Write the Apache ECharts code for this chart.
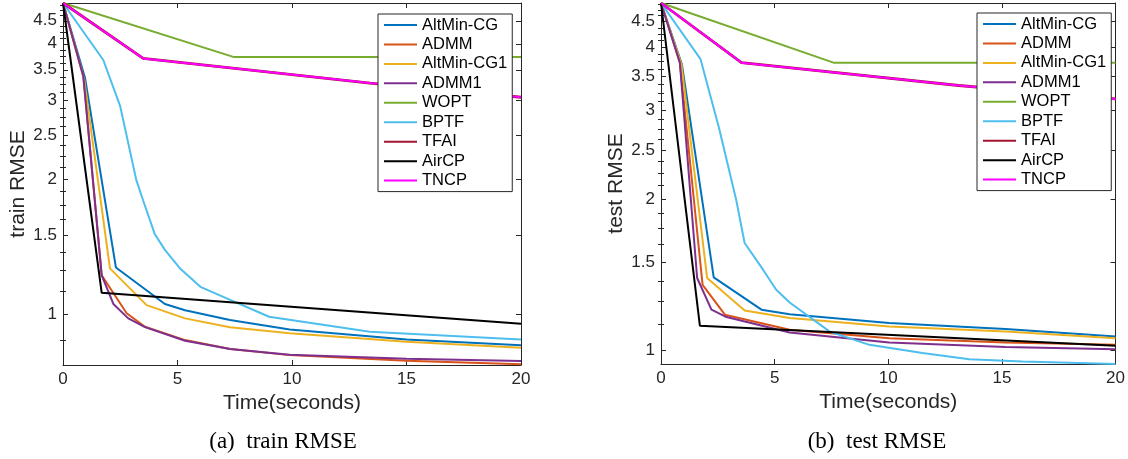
<!DOCTYPE html>
<html>
<head>
<meta charset="utf-8">
<script src="https://cdn.jsdelivr.net/npm/echarts@6.0.0/dist/echarts.min.js"></script>
<style>
html,body{margin:0;padding:0;background:#ffffff;}
#chart{width:1128px;height:459px;}
</style>
</head>
<body>
<div id="chart"></div>
<script>
// ---------- names, colours, ticks ----------
const seriesNames = ['AltMin-CG', 'ADMM', 'AltMin-CG1', 'ADMM1', 'WOPT', 'BPTF', 'TFAI', 'AirCP', 'TNCP'];
const seriesColors = ['#0072BD', '#D95319', '#EDB120', '#7E2F8E', '#77AC30', '#4DBEEE', '#A2142F', '#000000', '#FF00FF'];
const xTickValues = [0, 5, 10, 15, 20];
const yMajorTicks = [1, 1.5, 2, 2.5, 3, 3.5, 4, 4.5];
const yMinorTicks = [0.875, 1.125, 1.25, 1.375, 1.625, 1.75, 1.875, 2.125, 2.25, 2.375,
  2.625, 2.75, 2.875, 3.125, 3.25, 3.375, 3.625, 3.75, 3.875, 4.125, 4.25, 4.375, 4.625, 4.75, 4.875];
const xAxisName = 'Time(seconds)';
const trainYName = 'train RMSE';
const testYName = 'test RMSE';
const trainCaption = '(a)  train RMSE';
const testCaption = '(b)  test RMSE';
const trainYRange = [0.77, 4.93];
const testYRange = [0.94, 4.90];

// ---------- train RMSE: [time (s), RMSE] ----------
const trainAltMinCG = [[0, 4.93], [0.96, 3.36], [2.31, 1.27], [4.45, 1.053], [5.33, 1.02], [7.29, 0.97], [9.9, 0.924], [15, 0.878], [20, 0.852]];
const trainADMM = [[0, 4.93], [0.89, 3.38], [1.69, 1.22], [2.78, 1.004], [3.58, 0.937], [5.33, 0.875], [7.3, 0.836], [9.9, 0.81], [15, 0.787], [20, 0.773]];
const trainAltMinCG1 = [[0, 4.93], [0.93, 3.32], [2.05, 1.264], [3.65, 1.047], [5.33, 0.978], [7.29, 0.934], [9.9, 0.906], [15, 0.868], [20, 0.841]];
const trainADMM1 = [[0, 4.93], [0.89, 3.38], [1.69, 1.22], [2.2, 1.053], [2.85, 0.978], [3.58, 0.935], [5.33, 0.872], [7.3, 0.836], [9.9, 0.812], [15, 0.795], [20, 0.786]];
const trainWOPT = [[0, 4.93], [7.47, 3.735], [20, 3.735]];
const trainBPTF = [[0, 4.93], [1.76, 3.68], [2.5, 2.9], [3.2, 1.99], [3.5, 1.79], [4.0, 1.51], [4.45, 1.39], [5.1, 1.265], [6.0, 1.15], [7.3, 1.075], [9.0, 0.986], [13.4, 0.913], [20, 0.878]];
const trainTFAI = [[0, 4.93], [3.5, 3.71], [13.4, 3.27], [20, 3.04]];
const trainAirCP = [[0, 4.93], [1.69, 1.115], [20, 0.951]];
const trainTNCP = [[0, 4.93], [3.5, 3.71], [13.4, 3.27], [20, 3.04]];

// ---------- test RMSE: [time (s), RMSE] ----------
const testAltMinCG = [[0, 4.90], [0.92, 3.70], [2.32, 1.397], [4.42, 1.205], [5.66, 1.18], [10.04, 1.134], [15.16, 1.103], [20, 1.066]];
const testADMM = [[0, 4.90], [0.83, 3.73], [1.83, 1.35], [2.81, 1.178], [5.66, 1.099], [10.04, 1.058], [15.16, 1.037], [20, 1.026]];
const testAltMinCG1 = [[0, 4.90], [0.9, 3.70], [2.03, 1.393], [3.68, 1.201], [5.66, 1.16], [10.04, 1.116], [15.16, 1.091], [20, 1.058]];
const testADMM1 = [[0, 4.90], [0.83, 3.73], [1.59, 1.393], [2.22, 1.205], [2.88, 1.165], [5.66, 1.086], [10.04, 1.037], [15.16, 1.016], [20, 1.006]];
const testWOPT = [[0, 4.90], [7.59, 3.73], [20, 3.73]];
const testBPTF = [[0, 4.90], [1.74, 3.79], [2.55, 2.77], [3.3, 2.0], [3.68, 1.635], [4.49, 1.447], [5.07, 1.32], [5.66, 1.245], [7.41, 1.091], [9.17, 1.026], [11.5, 0.988], [13.57, 0.961], [15.9, 0.951], [20, 0.94]];
const testTFAI = [[0, 4.90], [3.54, 3.73], [13.1, 3.36], [20, 3.16]];
const testAirCP = [[0, 4.90], [1.71, 1.12], [20, 1.022]];
const testTNCP = [[0, 4.90], [3.54, 3.73], [13.1, 3.36], [20, 3.16]];

const trainData = [trainAltMinCG, trainADMM, trainAltMinCG1, trainADMM1, trainWOPT, trainBPTF, trainTFAI, trainAirCP, trainTNCP];
const testData = [testAltMinCG, testADMM, testAltMinCG1, testADMM1, testWOPT, testBPTF, testTFAI, testAirCP, testTNCP];

// ---------- styling ----------
const AX = '#262626';
const SANS = '"Liberation Sans", Arial, Helvetica, sans-serif';
const SERIF = '"Liberation Serif", "Times New Roman", serif';
const panels = [
  { grid: { left: 63, top: 3, width: 458, height: 362 }, yRange: trainYRange, yName: trainYName, data: trainData,
    legend: { left: 378, top: 14 }, caption: trainCaption, capX: 278 },
  { grid: { left: 661, top: 3, width: 457, height: 361 }, yRange: testYRange, yName: testYName, data: testData,
    legend: { left: 977, top: 13 }, caption: testCaption, capX: 872 }
];

const fmt = v => String(+Number(v).toFixed(3));
const grids = [], xAxes = [], yAxes = [], series = [], legends = [], titles = [];

panels.forEach((p, gi) => {
  grids.push(Object.assign({ containLabel: false }, p.grid));
  const xBase = {
    type: 'value', gridIndex: gi, min: 0, max: 20, interval: 5,
    axisLine: { show: true, onZero: false, lineStyle: { color: AX, width: 1 } },
    axisTick: { show: true, inside: true, length: 5, lineStyle: { color: AX, width: 1 } },
    splitLine: { show: false }
  };
  xAxes.push(Object.assign({}, xBase, {
    position: 'bottom',
    axisLabel: { show: true, margin: 6, fontSize: 17, color: AX, fontFamily: SANS, formatter: fmt },
    name: xAxisName, nameLocation: 'middle', nameGap: 21,
    nameTextStyle: { fontSize: 21, color: AX, fontFamily: SANS }
  }));
  xAxes.push(Object.assign({}, xBase, { position: 'top', axisLabel: { show: false } }));

  const yBase = {
    type: 'log', logBase: 10, gridIndex: gi, min: p.yRange[0], max: p.yRange[1],
    splitLine: { show: false }, minorTick: { show: false }, minorSplitLine: { show: false }
  };
  yAxes.push(Object.assign({}, yBase, {
    position: 'left',
    axisLine: { show: true, onZero: false, lineStyle: { color: AX, width: 1 } },
    axisTick: { show: true, inside: true, length: 5, customValues: yMajorTicks, lineStyle: { color: AX, width: 1 } },
    axisLabel: { show: true, customValues: yMajorTicks, margin: 6, fontSize: 17, color: AX, fontFamily: SANS, formatter: fmt },
    name: p.yName, nameLocation: 'middle', nameGap: 34, nameRotate: 90,
    nameTextStyle: { fontSize: 21, color: AX, fontFamily: SANS }
  }));
  yAxes.push(Object.assign({}, yBase, {
    position: 'left',
    axisLine: { show: false },
    axisTick: { show: true, inside: true, length: 3, customValues: yMinorTicks, lineStyle: { color: AX, width: 1 } },
    axisLabel: { show: false }
  }));
  yAxes.push(Object.assign({}, yBase, {
    position: 'right',
    axisLine: { show: true, onZero: false, lineStyle: { color: AX, width: 1 } },
    axisTick: { show: true, inside: true, length: 5, customValues: yMajorTicks, lineStyle: { color: AX, width: 1 } },
    axisLabel: { show: false }
  }));
  yAxes.push(Object.assign({}, yBase, {
    position: 'right',
    axisLine: { show: false },
    axisTick: { show: true, inside: true, length: 3, customValues: yMinorTicks, lineStyle: { color: AX, width: 1 } },
    axisLabel: { show: false }
  }));

  seriesNames.forEach((name, si) => {
    series.push({
      type: 'line', name: name, xAxisIndex: gi * 2, yAxisIndex: gi * 4,
      data: p.data[si], symbol: 'none', showSymbol: false, smooth: false, clip: true,
      color: seriesColors[si],
      lineStyle: { color: seriesColors[si], width: name === 'TFAI' ? 2.8 : 2 },
      itemStyle: { color: seriesColors[si] },
      z: 2 + si * 0.01
    });
  });

  legends.push({
    orient: 'vertical', left: p.legend.left, top: p.legend.top,
    data: seriesNames, selectedMode: false,
    backgroundColor: '#ffffff', borderColor: AX, borderWidth: 1, borderRadius: 0,
    padding: [2.5, 5, 2.5, 5],
    itemWidth: 33, itemHeight: 16, itemGap: 2.45,
    itemStyle: { opacity: 0 },
    lineStyle: { width: 2 },
    textStyle: { fontSize: 16.5, color: '#000000', fontFamily: SANS, lineHeight: 16 },
    z: 10
  });

  titles.push({
    text: p.caption, left: p.capX, top: 425, textAlign: 'center',
    textStyle: { fontSize: 23, fontWeight: 'normal', color: '#000000', fontFamily: SERIF }
  });
});

const chart = echarts.init(document.getElementById('chart'), null, { renderer: 'canvas' });
chart.setOption({
  animation: false,
  backgroundColor: '#ffffff',
  title: titles,
  grid: grids,
  xAxis: xAxes,
  yAxis: yAxes,
  legend: legends,
  series: series
});
</script>
</body>
</html>
